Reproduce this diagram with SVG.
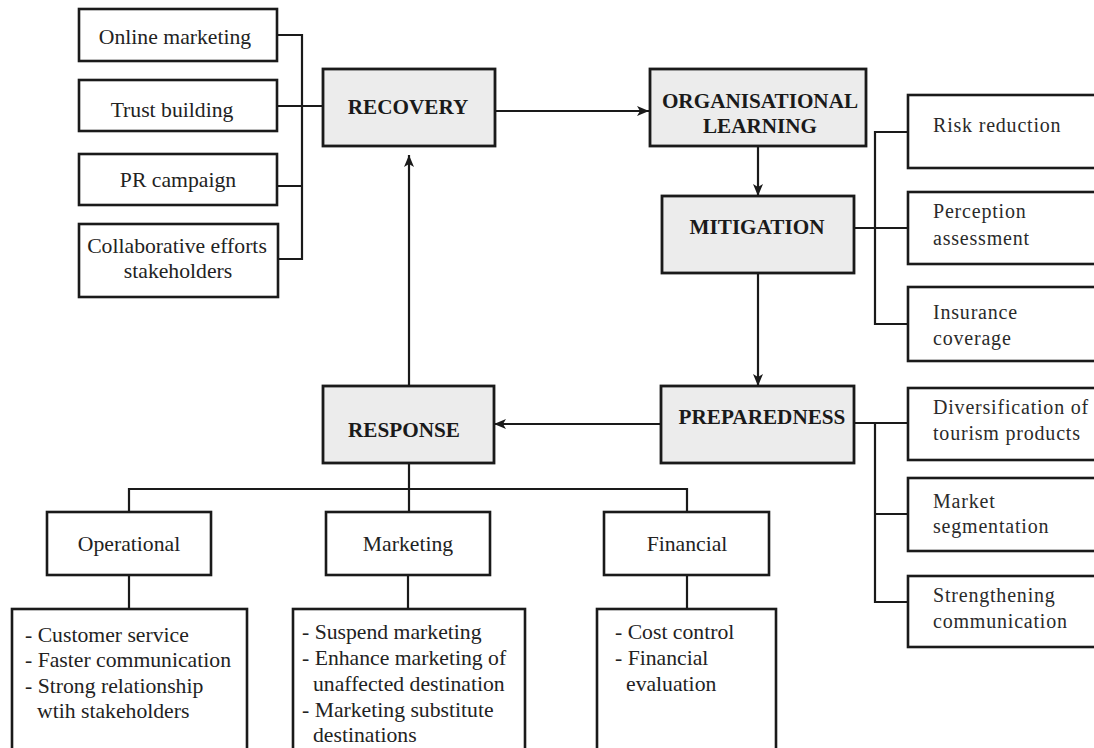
<svg xmlns="http://www.w3.org/2000/svg" width="1094" height="748" viewBox="0 0 1094 748">
  <style>
    .box { fill: #ffffff; stroke: #1a1a1a; stroke-width: 2.6; }
    .phase { fill: #ececec; stroke: #1a1a1a; stroke-width: 2.8; }
    .wire { fill: none; stroke: #1a1a1a; stroke-width: 2.2; }
    .t { font-family: "Liberation Serif", "Times New Roman", "DejaVu Serif", serif; font-size: 21.7px; fill: #222222; }
    .c { text-anchor: middle; }
    .b { font-size: 21.2px; font-weight: bold; fill: #1a1a1a; }
    .r { font-size: 20px; letter-spacing: 0.8px; fill: #2a2a2a; }
  </style>
  <defs>
    <marker id="arrow" viewBox="0 0 12 10" refX="12" refY="5" markerWidth="12" markerHeight="10" markerUnits="userSpaceOnUse" orient="auto">
      <path d="M0,0 L12,5 L0,10 L3,5 z" fill="#1a1a1a"/>
    </marker>
  </defs>

  <rect width="1094" height="748" fill="#ffffff"/>

  <!-- connectors -->
  <g id="connectors">
    <!-- recovery actions bus -->
    <path class="wire" d="M277,35 H302 V259 H277 M277,106 H323 M277,186 H302"/>
    <!-- mitigation measures bus -->
    <path class="wire" d="M854,228 H908 M908,132 H875 V324 H908"/>
    <!-- preparedness measures bus -->
    <path class="wire" d="M854,423 H908 M908,514 H875 M875,423 V602 H908"/>
    <!-- response branches -->
    <path class="wire" d="M409,463 V512 M129,512 V489 H687 V512 M129,575 V609 M408,575 V609 M687,575 V609"/>
    <!-- cycle arrows -->
    <line class="wire" x1="495" y1="111" x2="649" y2="111" marker-end="url(#arrow)"/>
    <line class="wire" x1="758" y1="146" x2="758" y2="196" marker-end="url(#arrow)"/>
    <line class="wire" x1="758" y1="273" x2="758" y2="386" marker-end="url(#arrow)"/>
    <line class="wire" x1="661" y1="424" x2="494" y2="424" marker-end="url(#arrow)"/>
    <line class="wire" x1="409" y1="386" x2="409" y2="155" marker-end="url(#arrow)"/>
  </g>

  <!-- recovery actions -->
  <g id="online-marketing">
    <rect class="box" x="79" y="9" width="198" height="52"/>
    <text class="t c" x="175" y="44">Online marketing</text>
  </g>
  <g id="trust-building">
    <rect class="box" x="79" y="80" width="198" height="51"/>
    <text class="t c" x="172" y="117">Trust building</text>
  </g>
  <g id="pr-campaign">
    <rect class="box" x="79" y="154" width="198" height="51"/>
    <text class="t c" x="178" y="187">PR campaign</text>
  </g>
  <g id="collaborative-efforts">
    <rect class="box" x="79" y="224" width="199" height="73"/>
    <text class="t c" x="177" y="253">Collaborative efforts</text>
    <text class="t c" x="178" y="278">stakeholders</text>
  </g>

  <!-- crisis management phases -->
  <g id="recovery">
    <rect class="phase" x="323" y="69" width="172" height="77"/>
    <text class="t c b" x="408" y="114">RECOVERY</text>
  </g>
  <g id="organisational-learning">
    <rect class="phase" x="650" y="69" width="216" height="77"/>
    <text class="t c b" x="760" y="108">ORGANISATIONAL</text>
    <text class="t c b" x="760" y="133">LEARNING</text>
  </g>
  <g id="mitigation">
    <rect class="phase" x="662" y="196" width="192" height="77"/>
    <text class="t c b" x="757" y="234">MITIGATION</text>
  </g>
  <g id="preparedness">
    <rect class="phase" x="661" y="386" width="193" height="77"/>
    <text class="t c b" x="762" y="424">PREPAREDNESS</text>
  </g>
  <g id="response">
    <rect class="phase" x="323" y="386" width="171" height="77"/>
    <text class="t c b" x="404" y="437">RESPONSE</text>
  </g>

  <!-- mitigation measures -->
  <g id="risk-reduction">
    <rect class="box" x="908" y="95" width="200" height="73"/>
    <text class="t r" x="933" y="132">Risk reduction</text>
  </g>
  <g id="perception-assessment">
    <rect class="box" x="908" y="192" width="200" height="72"/>
    <text class="t r" x="933" y="218">Perception</text>
    <text class="t r" x="933" y="245">assessment</text>
  </g>
  <g id="insurance-coverage">
    <rect class="box" x="908" y="287" width="200" height="74"/>
    <text class="t r" x="933" y="319">Insurance</text>
    <text class="t r" x="933" y="345">coverage</text>
  </g>

  <!-- preparedness measures -->
  <g id="diversification">
    <rect class="box" x="908" y="388" width="200" height="72"/>
    <text class="t r" x="933" y="414">Diversification of</text>
    <text class="t r" x="933" y="440">tourism products</text>
  </g>
  <g id="market-segmentation">
    <rect class="box" x="908" y="478" width="200" height="73"/>
    <text class="t r" x="933" y="508">Market</text>
    <text class="t r" x="933" y="533">segmentation</text>
  </g>
  <g id="strengthening-communication">
    <rect class="box" x="908" y="576" width="200" height="71"/>
    <text class="t r" x="933" y="602">Strengthening</text>
    <text class="t r" x="933" y="628">communication</text>
  </g>

  <!-- response branches -->
  <g id="operational">
    <rect class="box" x="47" y="512" width="164" height="63"/>
    <text class="t c" x="129" y="551">Operational</text>
  </g>
  <g id="marketing">
    <rect class="box" x="326" y="512" width="164" height="63"/>
    <text class="t c" x="408" y="551">Marketing</text>
  </g>
  <g id="financial">
    <rect class="box" x="604" y="512" width="165" height="63"/>
    <text class="t c" x="687" y="551">Financial</text>
  </g>

  <g id="operational-actions">
    <rect class="box" x="12" y="609" width="235" height="145"/>
    <text class="t" x="25" y="642">- Customer service</text>
    <text class="t" x="25" y="667">- Faster communication</text>
    <text class="t" x="25" y="693">- Strong relationship</text>
    <text class="t" x="37" y="718">wtih stakeholders</text>
  </g>
  <g id="marketing-actions">
    <rect class="box" x="293" y="609" width="232" height="145"/>
    <text class="t" x="302" y="639">- Suspend marketing</text>
    <text class="t" x="302" y="665">- Enhance marketing of</text>
    <text class="t" x="313" y="691">unaffected destination</text>
    <text class="t" x="302" y="717">- Marketing substitute</text>
    <text class="t" x="313" y="742">destinations</text>
  </g>
  <g id="financial-actions">
    <rect class="box" x="597" y="609" width="179" height="145"/>
    <text class="t" x="615" y="639">- Cost control</text>
    <text class="t" x="615" y="665">- Financial</text>
    <text class="t" x="626" y="691">evaluation</text>
  </g>
</svg>
